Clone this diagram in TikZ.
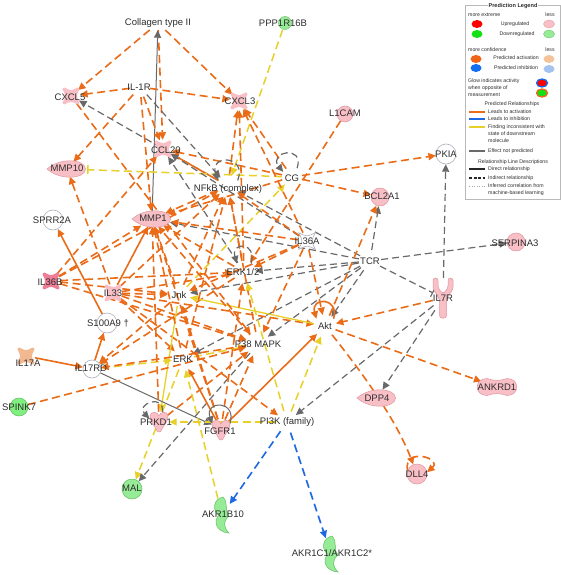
\documentclass[tikz,border=0pt]{standalone}
\usepackage{fontspec}
\setmainfont{Liberation Sans}
\usetikzlibrary{arrows.meta,shapes.geometric,calc}
\definecolor{ipaor}{RGB}{234,108,24}
\definecolor{ipay}{RGB}{232,208,40}
\definecolor{ipagr}{RGB}{105,105,105}
\definecolor{ipabl}{RGB}{30,105,225}
\definecolor{pkf}{RGB}{248,192,198}
\definecolor{pkd}{RGB}{222,150,160}
\definecolor{pkh}{RGB}{238,125,150}
\definecolor{gnf}{RGB}{150,236,150}
\definecolor{gnd}{RGB}{100,190,100}
\definecolor{tanf}{RGB}{242,185,145}
\definecolor{txt}{RGB}{45,45,45}
\definecolor{wbd}{RGB}{175,175,190}
\tikzset{
  ipatip/.tip={Triangle[length=7.5pt,width=7pt]},
  anc/.style={circle,inner sep=0pt,minimum size=#1},
  anel/.style 2 args={ellipse,inner sep=0pt,minimum width=#1,minimum height=#2},
  lbl/.style={inner sep=0pt,text=txt,font=\fontsize{9.5}{11}\selectfont},
  lgt/.style={inner sep=0pt,text=txt,font=\fontsize{5.2}{6}\selectfont},
  oa/.style={draw=ipaor,line width=1.6pt,dash pattern=on 8pt off 4.5pt,-ipatip},
  os/.style={draw=ipaor,line width=1.6pt,-ipatip},
  ya/.style={draw=ipay,line width=1.5pt,dash pattern=on 8pt off 4.5pt,-ipatip},
  ys/.style={draw=ipay,line width=1.3pt,-ipatip},
  yb/.style={draw=ipay,line width=1.5pt,dash pattern=on 8pt off 4.5pt,-{Bar[width=9pt]}},
  ga/.style={draw=ipagr,line width=1.2pt,dash pattern=on 7pt off 4pt,-ipatip},
  gs/.style={draw=ipagr,line width=1pt,-ipatip},
  gb/.style={draw=ipagr,line width=1.2pt,dash pattern=on 7pt off 4pt,-{Bar[width=9pt]}},
  ba/.style={draw=ipabl,line width=1.6pt,dash pattern=on 8pt off 4.5pt,-ipatip},
  cyto/.pic={\path[pic actions,line width=3pt,line join=round] (-7,-7) .. controls (0,-3.5) .. (7,-7) .. controls (3.5,0) .. (7,7) .. controls (0,3.5) .. (-7,7) .. controls (-3.5,0) .. (-7,-7) -- cycle;},
  cytow/.pic={\path[pic actions] (-8.5,-8.5) .. controls (0,-4) .. (8.5,-8.5) .. controls (4,0) .. (8.5,8.5) .. controls (0,4) .. (-8.5,8.5) .. controls (-4,0) .. (-8.5,-8.5) -- cycle;},
  pept/.pic={\path[pic actions] (-20,0) .. controls (-10,-9) and (6,-10) .. (14,-6) .. controls (20,-3) and (20,3) .. (14,6) .. controls (6,10) and (-10,9) .. (-20,0) -- cycle;},
  kin/.pic={\path[pic actions] (-9,-6) .. controls (-9,-11) and (-1,-11) .. (0,-6) .. controls (1,-11) and (9,-11) .. (9,-6) .. controls (9,0) and (4,4) .. (3,7) .. controls (2,11) and (-2,11) .. (-3,7) .. controls (-4,4) and (-9,0) .. (-9,-6) -- cycle;},
  tfr/.pic={\path[pic actions] (-10,-8.5) .. controls (-3,-6) and (3,-6) .. (10,-8.5) .. controls (23,-8.5) and (23,8.5) .. (10,8.5) .. controls (3,6) and (-3,6) .. (-10,8.5) .. controls (-23,8.5) and (-23,-8.5) .. (-10,-8.5) -- cycle;},
  rcpt/.pic={\path[pic actions,rounded corners=2.5pt] (-3.5,20) -- (-3.5,1) -- (-10,-9) -- (-10,-20) -- (-5,-20) -- (-5,-10) -- (0,-4) -- (5,-10) -- (5,-20) -- (10,-20) -- (10,-9) -- (3.5,1) -- (3.5,20) -- cycle;},
  enzy/.pic={\path[pic actions] (1,-18) .. controls (-9,-16) and (-10,-4) .. (-3,0) .. controls (-9,6) and (-6,17) .. (7,18) .. controls (1,12) and (1,6) .. (7,1) .. controls (2,-3) and (7,-12) .. (1,-18) -- cycle;}
}
\begin{document}
\begin{tikzpicture}[x=1pt,y=-1pt]
\useasboundingbox (0,0) rectangle (561,575);
\fill[white] (0,0) rectangle (561,575);

% ---------- anchor nodes ----------
\node[anel={66pt}{14pt}] (coll) at (158,23) {};
\node[anc=14pt] (ppp) at (285,23) {};
\node[anc=18pt] (cxcl5) at (71,96) {};
\node[anc=20pt] (il1r) at (140,87) {};
\node[anc=18pt] (cxcl3) at (239,101) {};
\node[anc=16pt] (l1cam) at (345,114) {};
\node[anc=18pt] (ccl20) at (163,149) {};
\node[anel={40pt}{15pt}] (mmp10) at (67,169) {};
\node[anc=22pt] (nfkb) at (228,186) {};
\node[anc=20pt] (cg) at (292,177) {};
\node[anc=20pt] (pkia) at (446,154) {};
\node[anc=18pt] (bcl2a1) at (380,197) {};
\node[anc=20pt] (sprr2a) at (53,220) {};
\node[anel={40pt}{15pt}] (mmp1) at (152,219) {};
\node[anc=18pt] (il36a) at (307,241) {};
\node[anc=18pt] (serpina3) at (516,242) {};
\node[anc=18pt] (il36b) at (51,281) {};
\node[anc=22pt] (erk12) at (244,272) {};
\node[anc=22pt] (tcr) at (370,261) {};
\node[anc=18pt] (il33) at (113,293) {};
\node[anc=22pt] (jnk) at (179,295) {};
\node[anel={20pt}{40pt}] (il7r) at (443,298) {};
\node[anc=20pt] (s100a9) at (107,323) {};
\node[anc=22pt] (akt) at (325,326) {};
\node[anc=24pt] (p38) at (258,344) {};
\node[anc=22pt] (erk) at (183,359) {};
\node[anc=18pt] (il17a) at (26,356) {};
\node[anc=18pt] (il17rd) at (92,369) {};
\node[anel={40pt}{17pt}] (ankrd1) at (497,387) {};
\node[anel={40pt}{17pt}] (dpp4) at (377,398) {};
\node[anc=18pt] (spink7) at (19,407) {};
\node[anc=20pt] (prkd1) at (159,422) {};
\node[anc=20pt] (fgfr1) at (221,429) {};
\node[anc=22pt] (pi3k) at (287,422) {};
\node[anc=20pt] (dll4) at (417,474) {};
\node[anc=20pt] (mal) at (132,489) {};
\node[anel={19pt}{36pt}] (akr1b10) at (222,515) {};
\node[anel={18pt}{38pt}] (akr1c) at (331,554) {};

% ---------- connectors ----------
% Collagen type II
\draw[oa] (coll) -- (cxcl5);
\draw[oa] (coll) -- (cxcl3);
\draw[oa] (coll) -- (ccl20);
\draw[gs] (mmp1) -- (coll);
% IL-1R
\draw[oa] (il1r) -- (cxcl5);
\draw[oa] (il1r) -- (cxcl3);
\draw[oa] (il1r) -- (mmp10);
\draw[oa] (il1r) -- (ccl20);
\draw[oa] (il1r) -- (mmp1);
\draw[ga] (il1r) -- (nfkb);
% PPP1R16B
\draw[ya] (ppp) -- (nfkb);
% NFkB
\draw[ga] (nfkb) -- (cxcl5);
\draw[oa] (nfkb) -- (cxcl3);
\draw[os] (nfkb) -- (ccl20);
\draw[oa] (nfkb) -- (mmp1);
% CG
\draw[oa] (cg) -- (cxcl3);
\draw[oa] (cg) -- (ccl20);
\draw[yb] (cg) -- (mmp10);
\draw[oa] (cg) -- (pkia);
\draw[oa] (cg) -- (bcl2a1);
\draw[oa] (cg) -- (mmp1);
\draw[ya] (jnk) -- (cg);
% L1CAM
\draw[oa] (l1cam) -- (erk12);
% TCR
\draw[ga] (tcr) -- (serpina3);
\draw[gb] (tcr) -- (il7r);
\draw[ga] (tcr) -- (bcl2a1);
\draw[ga] (tcr) -- (erk12);
\draw[ga] (tcr) -- (jnk);
\draw[ga] (tcr) -- (p38);
\draw[ga] (tcr) -- (erk);
\draw[ga] (tcr) -- (akt);
\draw[ga] (tcr) -- (mmp1);
\draw[ga] (tcr) -- (nfkb);
% IL7R
\draw[ga] (il7r) -- (pkia);
\draw[oa] (il7r) -- (akt);
\draw[ga] (il7r) -- (pi3k);
\draw[ga] (il7r) -- (dpp4);
% Akt
\draw[oa] (akt) -- (ankrd1);
\draw[oa] (akt) -- (bcl2a1);
\draw[oa] (akt) .. controls (372,385) and (398,425) .. (dll4);
% IL36A
\draw[ga] (il36a) -- (ccl20);
\draw[oa] (il36a) -- (mmp1);
\draw[oa] (il36a) -- (nfkb);
\draw[oa] (il36a) -- (erk12);
\draw[oa] (il36a) -- (jnk);
\draw[oa] (il36a) -- (p38);
\draw[oa] (il36a) -- (akt);
\draw[oa] (il36a) -- (cxcl3);
% IL36B
\draw[oa] (il36b) -- (erk12);
\draw[oa] (il36b) -- (jnk);
\draw[oa] (il36b) -- (mmp1);
\draw[oa] (il36b) -- (ccl20);
\draw[oa] (il36b) -- (nfkb);
\draw[oa] (il36b) -- (p38);
% IL33
\draw[os] (il33) -- (mmp1);
\draw[oa] (il33) -- (jnk);
\draw[oa] (il33) -- (erk12);
\draw[oa] (il33) -- (p38);
\draw[oa] (il33) -- (nfkb);
\draw[oa] (il33) -- (erk);
\draw[oa] (il33) -- (akt);
\draw[oa] (il33) -- (mmp10);
\draw[oa] (il33) -- (pi3k);
% ERK1/2
\draw[ga] (erk12) -- (ccl20);
\draw[oa] (erk12) -- (mmp1);
\draw[oa] (erk12) -- (nfkb);
\draw[oa] (erk12) -- (il17rd);
\draw[oa] (erk12) -- (cxcl3);
% Jnk
\draw[oa] (jnk) -- (mmp1);
\draw[oa] (jnk) -- (nfkb);
\draw[oa] (jnk) -- (il17rd);
\draw[ys] (akt) -- (jnk);
\draw[ys] (jnk) -- (prkd1);
% ERK
\draw[oa] (erk) -- (mmp1);
\draw[oa] (erk) -- (nfkb);
\draw[ya] (erk) -- (mal);
\draw[ya] (erk) -- (p38);
\draw[ya] (il17rd) -- (erk);
% P38 MAPK
\draw[ga] (p38) -- (mal);
\draw[oa] (p38) -- (mmp1);
\draw[oa] (p38) -- (nfkb);
\draw[oa] (p38) -- (il17rd);
\draw[ya] (pi3k) -- (erk12);
% IL17A, IL17RD, S100A9, SPINK7, CXCL5
\draw[os] (il17a) -- (il17rd);
\draw[os] (il17rd) -- (s100a9);
\draw[gs] (il17rd) -- (fgfr1);
\draw[os] (s100a9) -- (sprr2a);
\draw[oa] (spink7) -- (p38);
\draw[oa] (cxcl5) -- (p38);
% PRKD1
\draw[ya] (pi3k) -- (prkd1);
\draw[oa] (prkd1) -- (p38);
\draw[oa] (prkd1) -- (mmp1);
% FGFR1
\draw[os] (fgfr1) -- (erk);
\draw[oa] (fgfr1) -- (p38);
\draw[os] (fgfr1) -- (akt);
\draw[oa] (fgfr1) -- (jnk);
\draw[oa] (fgfr1) -- (erk12);
\draw[oa] (fgfr1) -- (mmp1);
% PI3K
\draw[ba] (pi3k) -- (akr1b10);
\draw[ba] (pi3k) -- (akr1c);
\draw[ya] (pi3k) -- (akt);
% AKR1B10
\draw[ya] (akr1b10) -- (erk);
% self loops
\draw[ga] (nfkb.30) .. controls +(10,-26) and +(-10,-26) .. (nfkb.150);
\draw[ga] (cg.60) .. controls +(8,-24) and +(-16,-20) .. (cg.150);
\draw[ga] (erk12.50) .. controls +(6,-22) and +(-6,-22) .. (erk12.130);
\draw[ga] (prkd1.70) .. controls +(2,-20) and +(-14,-14) .. (prkd1.160);
\draw[gs] (fgfr1.30) .. controls +(8,-24) and +(-8,-24) .. (fgfr1.150);
\draw[os] (akt.40) .. controls +(6,-22) and +(-6,-22) .. (akt.140);
\draw[oa] (dll4.160) .. controls +(-4,-24) and +(16,-14) .. (dll4.10);

% ---------- node shapes ----------
\path[fill=gnf,draw=gnd,line width=0.4pt] (ppp.center) circle[radius=6.5pt];
\pic[fill=pkf,draw=pkf] at (71,96) {cyto};
\pic[fill=pkf,draw=pkf] at (239,101) {cyto};
\pic[fill=pkf,draw=pkf] at (163,149) {cyto};
\pic[fill=white,draw=wbd,line width=0.6pt,line join=round] at (307,241) {cytow};
\pic[fill=pkh,draw=pkh] at (51,281) {cyto};
\pic[fill=pkf,draw=pkf] at (113,293) {cyto};
\pic[fill=tanf,draw=tanf] at (26,356) {cyto};
\pic[fill=pkf,draw=pkd,line width=0.5pt] at (67,169) {pept};
\pic[fill=pkf,draw=pkd,line width=0.5pt] at (152,219) {pept};
\pic[fill=pkf,draw=pkd,line width=0.5pt] at (377,398) {pept};
\pic[fill=pkf,draw=pkd,line width=0.5pt] at (159,422) {kin};
\pic[fill=pkf,draw=pkd,line width=0.5pt] at (221,430) {kin};
\pic[fill=pkf,draw=pkd,line width=0.5pt] at (497,387) {tfr};
\pic[fill=pkf,draw=pkd,line width=0.5pt] at (443,298) {rcpt};
\pic[fill=gnf,draw=gnd,line width=0.5pt] at (222,515) {enzy};
\pic[fill=gnf,draw=gnd,line width=0.5pt] at (331,554) {enzy};
\path[fill=pkf,draw=pkd,line width=0.5pt] (l1cam.center) circle[radius=8pt];
\path[fill=white,draw=wbd,line width=0.6pt] (pkia.center) circle[radius=10pt];
\path[fill=pkf,draw=pkd,line width=0.5pt] (bcl2a1.center) circle[radius=9pt];
\path[fill=white,draw=wbd,line width=0.6pt] (sprr2a.center) circle[radius=10pt];
\path[fill=pkf,draw=pkd,line width=0.5pt] (serpina3.center) circle[radius=9pt];
\path[fill=white,draw=wbd,line width=0.6pt] (s100a9.center) circle[radius=10pt];
\path[fill=white,draw=wbd,line width=0.6pt] (il17rd.center) circle[radius=9pt];
\path[fill=gnf!85!green,draw=gnd,line width=0.5pt] (spink7.center) circle[radius=9pt];
\path[fill=pkf,draw=pkd,line width=0.5pt] (dll4.center) circle[radius=10pt];
\path[fill=gnf,draw=gnd,line width=0.5pt] (mal.center) circle[radius=10pt];

% ---------- labels ----------
\node[lbl] (coll-l) at (158,23) {Collagen type II};
\node[lbl] (ppp-l) at (283,23) {PPP1R16B};
\node[lbl] (cxcl5-l) at (70,97) {CXCL5};
\node[lbl] (il1r-l) at (139,87) {IL-1R};
\node[lbl] (cxcl3-l) at (240,101) {CXCL3};
\node[lbl] (l1cam-l) at (345,113) {L1CAM};
\node[lbl] (ccl20-l) at (166,150) {CCL20};
\node[lbl] (mmp10-l) at (67,168) {MMP10};
\node[lbl] (nfkb-l) at (228,189) {NFkB (complex)};
\node[lbl] (cg-l) at (292,178) {CG};
\node[lbl] (pkia-l) at (446,154) {PKIA};
\node[lbl] (bcl2a1-l) at (382,196) {BCL2A1};
\node[lbl] (sprr2a-l) at (52,220) {SPRR2A};
\node[lbl] (mmp1-l) at (153,218) {MMP1};
\node[lbl] (il36a-l) at (307,241) {IL36A};
\node[lbl] (serpina3-l) at (515,243) {SERPINA3};
\node[lbl] (il36b-l) at (50,282) {IL36B};
\node[lbl] (erk12-l) at (243,272) {ERK1/2};
\node[lbl] (tcr-l) at (370,261) {TCR};
\node[lbl] (il33-l) at (113,293) {IL33};
\node[lbl] (jnk-l) at (179,295) {Jnk};
\node[lbl] (il7r-l) at (443,298) {IL7R};
\node[lbl] (s100a9-l) at (108,323) {S100A9 †};
\node[lbl] (akt-l) at (325,326) {Akt};
\node[lbl] (p38-l) at (258,344) {P38 MAPK};
\node[lbl] (erk-l) at (183,359) {ERK};
\node[lbl] (il17a-l) at (28,363) {IL17A};
\node[lbl] (il17rd-l) at (91,368) {IL17RD};
\node[lbl] (ankrd1-l) at (497,387) {ANKRD1};
\node[lbl] (dpp4-l) at (377,398) {DPP4};
\node[lbl] (spink7-l) at (19,407) {SPINK7};
\node[lbl] (prkd1-l) at (156,422) {PRKD1};
\node[lbl] (fgfr1-l) at (220,431) {FGFR1};
\node[lbl] (pi3k-l) at (287,422) {PI3K (family)};
\node[lbl] (dll4-l) at (417,474) {DLL4};
\node[lbl] (mal-l) at (132,488) {MAL};
\node[lbl] (akr1b10-l) at (223,514) {AKR1B10};
\node[lbl] (akr1c-l) at (332,553) {AKR1C1/AKR1C2*};

% ---------- legend ----------
\draw[draw=gray!55,fill=white,line width=0.5pt] (465,5) rectangle (560,199);
\node[lgt,font=\bfseries\fontsize{5.6}{6.5}\selectfont,fill=white,inner sep=1pt] (lgtitle) at (513,6) {Prediction Legend};
\node[lgt,anchor=west] (lg1) at (468,15) {more extreme};
\node[lgt] (lg2) at (550,15) {less};
\path[fill=red] (477,24) ellipse[x radius=5.5pt,y radius=4pt];
\path[fill=pkf,draw=pkd,line width=0.3pt] (549,24) ellipse[x radius=5.5pt,y radius=4pt];
\node[lgt] (lg3) at (515,24) {Upregulated};
\path[fill={rgb,255:red,20;green,225;blue,20}] (477,34) ellipse[x radius=5.5pt,y radius=4pt];
\path[fill=gnf,draw=gnd,line width=0.3pt] (549,34) ellipse[x radius=5.5pt,y radius=4pt];
\node[lgt] (lg4) at (517,34) {Downregulated};
\node[lgt,anchor=west] (lg5) at (468,50) {more confidence};
\node[lgt] (lg6) at (550,50) {less};
\path[fill={rgb,255:red,240;green,100;blue,20}] (476,59) ellipse[x radius=5.5pt,y radius=4pt];
\path[fill={rgb,255:red,245;green,195;blue,155}] (549,59) ellipse[x radius=5.5pt,y radius=4pt];
\node[lgt] (lg7) at (516,58) {Predicted activation};
\path[fill={rgb,255:red,20;green,110;blue,240}] (476,68) ellipse[x radius=5.5pt,y radius=4pt];
\path[fill={rgb,255:red,165;green,195;blue,240}] (549,69) ellipse[x radius=5.5pt,y radius=4pt];
\node[lgt] (lg8) at (516,68) {Predicted inhibition};
\node[lgt,anchor=west] (lg9) at (468,81) {Glow indicates activity};
\node[lgt,anchor=west] (lg10) at (468,88) {when opposite of};
\node[lgt,anchor=west] (lg11) at (468,95) {measurement};
\path[fill=red,draw=ipabl,line width=1.3pt] (542,83) ellipse[x radius=5.5pt,y radius=4pt];
\path[fill={rgb,255:red,20;green,225;blue,20},draw=ipaor,line width=1.3pt] (542,93) ellipse[x radius=5.5pt,y radius=4pt];
\node[lgt] (lg12) at (512,104) {Predicted Relationships};
\draw[ipaor,line width=1.3pt] (469,112) -- (485,112);
\node[lgt,anchor=west] (lg13) at (488,112) {Leads to activation};
\draw[ipabl,line width=1.3pt] (469,119) -- (485,119);
\node[lgt,anchor=west] (lg14) at (488,119) {Leads to inhibition};
\draw[ipay,line width=1.3pt] (469,127) -- (485,127);
\node[lgt,anchor=west] (lg15) at (488,127) {Finding inconsistent with};
\node[lgt,anchor=west] (lg16) at (488,134) {state of downstream};
\node[lgt,anchor=west] (lg17) at (488,141) {molecule};
\draw[ipagr,line width=1.3pt] (469,151) -- (485,151);
\node[lgt,anchor=west] (lg18) at (488,151) {Effect not predicted};
\node[lgt] (lg19) at (513,162) {Relationship Line Descriptions};
\draw[black!85,line width=1.3pt] (469,169) -- (485,169);
\node[lgt,anchor=west] (lg20) at (488,169) {Direct relationship};
\draw[black!85,line width=1.3pt,dash pattern=on 3pt off 1.5pt] (469,178) -- (485,178);
\node[lgt,anchor=west] (lg21) at (488,178) {Indirect relationship};
\draw[gray!70,line width=0.8pt,dash pattern=on 1pt off 1.5pt] (469,186) -- (485,186);
\node[lgt,anchor=west] (lg22) at (488,186) {Inferred correlation from};
\node[lgt,anchor=west] (lg23) at (488,193) {machine-based learning};
\end{tikzpicture}
\end{document}
